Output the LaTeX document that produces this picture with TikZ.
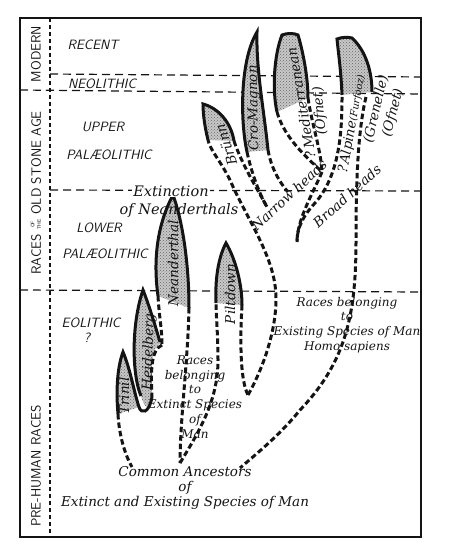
\documentclass[tikz,border=0pt]{standalone}
\usepackage{fontspec}
\usepackage{tikz}
\usetikzlibrary{patterns, positioning}
\newfontfamily\oldhand{DejaVu Serif}
\definecolor{cInk}{RGB}{20,20,20}
\definecolor{cStipple}{RGB}{200,200,200}
\tikzset{
	frame/.style   ={draw=cInk, line width=1.6pt},
	era/.style     ={draw=cInk, line width=1.2pt, dash pattern=on 8pt off 5pt},
	colsep/.style  ={draw=cInk, line width=1.2pt, dash pattern=on 4pt off 3pt},
	spindle/.style ={fill=cStipple, postaction={pattern=crosshatch dots, pattern color=black!60}},
	rim/.style     ={draw=cInk, line width=3pt},
	lineage/.style ={draw=cInk, line width=3pt, dash pattern=on 5.5pt off 3pt},
	% text styles
	period/.style  ={font=\fontsize{13.5}{15}\selectfont\sffamily\itshape, text=cInk, inner sep=1pt},
	agelbl/.style  ={font=\fontsize{13.5}{15}\selectfont\sffamily, text=cInk, rotate=90, inner sep=1pt},
	racelbl/.style ={font=\fontsize{13.5}{14}\selectfont\oldhand\itshape, text=cInk, inner sep=0pt},
	note/.style    ={font=\fontsize{12}{14.8}\selectfont\oldhand\itshape, text=cInk, align=center, inner sep=0pt},
}
\begin{document}
\begin{tikzpicture}[x=1pt,y=-1pt]
	\useasboundingbox (0,0) rectangle (452,545);
	% frame and time divisions
	\draw[frame] (20,18) rectangle (421,537);
	\draw[colsep] (50,18) -- (50,537);
	\draw[era] (50,74) -- (421,77);
	\draw[era] (20,90) -- (421,94);
	\draw[era] (50,190) -- (421,191);
	\draw[era] (20,290) -- (421,292);

	\node[agelbl] (modern) at (36,54) {MODERN};
	\node[agelbl] (oldstone) at (36,193) {RACES {\fontsize{5}{5.5}\selectfont\shortstack{OF\\THE}} OLD STONE AGE};
	\node[agelbl] (prehuman) at (36,466) {PRE-HUMAN RACES};

	\node[period] (recent) at (93,45) {RECENT};
	\node[period] (neo) at (102,84) {NEOLITHIC};
	\node[period] (upper) at (103,127) {UPPER};
	\node[period] (upperpal) at (109,155) {PAL\AE OLITHIC};
	\node[period] (lower) at (99,228) {LOWER};
	\node[period] (lowerpal) at (105,254) {PAL\AE OLITHIC};
	\node[period] (eo) at (91,323) {EOLITHIC};
	\node[period] (eoq) at (87,338) {?};

	\coordinate (trinil) at (123,352);
	\coordinate (heidel) at (143,290);
	\coordinate (neand) at (173,195);
	\coordinate (pilt) at (226,243);
	\coordinate (brunn) at (203,104);
	\coordinate (cro) at (257,32);
	\coordinate (vExtinct) at (180,463);
	\coordinate (vPilt) at (248,395);
	\coordinate (vNarrow) at (267,207);
	\coordinate (vMed) at (322,172);
	\coordinate (vBroad) at (297,242);
	\coordinate (rootL) at (132,467);
	\coordinate (rootR) at (240,468);

	% stippled spindles
	\fill[spindle] (118,414) .. controls (116,392) and (117,368) .. (trinil)
		.. controls (130,368) and (134,392) .. (139,407) -- cycle;
	\fill[spindle] (141,396) .. controls (132,375) and (131,325) .. (heidel)
		.. controls (149,305) and (155,325) .. (160,343)
		.. controls (150,350) and (151,375) .. (152,397)
		.. controls (149,410) and (145,410) .. cycle;
	\fill[spindle] (158,296) .. controls (153,260) and (157,225) .. (neand)
		.. controls (184,225) and (189,270) .. (189,308) -- cycle;
	\fill[spindle] (216,303) .. controls (215,280) and (218,258) .. (pilt)
		.. controls (236,260) and (242,285) .. (242,305) -- cycle;
	\fill[spindle] (208,140) .. controls (205,128) and (203,115) .. (brunn)
		.. controls (218,108) and (231,122) .. (234,141) -- cycle;
	\fill[spindle] (247,152) .. controls (240,120) and (240,60) .. (cro)
		.. controls (256,70) and (264,110) .. (268,150) -- cycle;
	\fill[spindle] (277,112) .. controls (272,90) and (274,55) .. (282,35)
		.. controls (287,33) and (294,33) .. (298,35)
		.. controls (304,55) and (308,80) .. (308,98) -- cycle;
	\fill[spindle] (342,95) .. controls (341,70) and (338,50) .. (337,39)
		.. controls (342,37) and (348,37) .. (352,38)
		.. controls (365,50) and (372,70) .. (372,92) -- cycle;

	% solid rims
	\draw[rim] (118,414) .. controls (116,392) and (117,368) .. (trinil)
		.. controls (130,368) and (134,392) .. (139,407)
		.. controls (141,414) and (149,414) .. (152,397);
	\draw[rim] (141,396) .. controls (132,375) and (131,325) .. (heidel)
		.. controls (149,305) and (155,325) .. (160,342);
	\draw[rim] (158,296) .. controls (153,260) and (157,225) .. (neand)
		.. controls (184,225) and (189,270) .. (189,308);
	\draw[rim] (216,303) .. controls (215,280) and (218,258) .. (pilt)
		.. controls (236,260) and (242,285) .. (242,305);
	\draw[rim] (208,140) .. controls (205,128) and (203,115) .. (brunn)
		.. controls (218,108) and (231,122) .. (234,141);
	\draw[rim] (247,152) .. controls (240,120) and (240,60) .. (cro)
		.. controls (256,70) and (264,110) .. (268,150);
	\draw[rim] (277,112) .. controls (272,90) and (274,55) .. (282,35)
		.. controls (287,33) and (294,33) .. (298,35)
		.. controls (304,55) and (308,80) .. (308,98);
	\draw[rim] (342,95) .. controls (341,70) and (338,50) .. (337,39)
		.. controls (342,37) and (348,37) .. (352,38)
		.. controls (365,50) and (372,70) .. (372,92);

	% dashed lines of descent
	\draw[lineage] (118,414) .. controls (119,435) and (125,455) .. (rootL);
	\draw[lineage] (162,345) .. controls (150,350) and (151,375) .. (152,397);
	\draw[lineage] (158,296) .. controls (159,315) and (162,330) .. (162,344);
	\draw[lineage] (189,308) .. controls (188,360) and (180,420) .. (vExtinct);
	\draw[lineage] (vExtinct) .. controls (200,430) and (218,400) .. (218,360)
		.. controls (218,335) and (216,315) .. (216,303);
	\draw[lineage] (242,305) .. controls (240,340) and (240,380) .. (vPilt);
	\draw[lineage] (vPilt) .. controls (265,365) and (280,320) .. (275,285)
		.. controls (270,250) and (245,215) .. (230,180)
		.. controls (220,160) and (210,150) .. (208,140);
	\draw[lineage] (234,141) .. controls (242,165) and (258,190) .. (vNarrow);
	\draw[lineage] (247,152) .. controls (252,175) and (260,195) .. (vNarrow);
	\draw[lineage] (268,150) .. controls (271,168) and (280,183) .. (288,192);
	\draw[lineage] (277,112) .. controls (285,140) and (310,160) .. (vMed);
	\draw[lineage] (308,98) .. controls (312,125) and (321,150) .. (vMed);
	\draw[lineage] (vMed) .. controls (312,195) and (297,220) .. (vBroad);
	\draw[lineage] (342,97) .. controls (342,130) and (340,175) .. (315,203)
		.. controls (303,216) and (297,228) .. (vBroad);
	\draw[lineage] (366,97) .. controls (358,130) and (356,180) .. (356,240)
		.. controls (356,310) and (348,360) .. (300,410)
		.. controls (280,435) and (255,455) .. (rootR);

	% race names
	\node[racelbl, rotate=90] (lblTrinil) at (124,396) {Trinil};
	\node[racelbl, rotate=88] (lblHeidel) at (149,352) {Heidelberg};
	\node[racelbl, rotate=90] (lblNeand) at (173,263) {Neanderthal};
	\node[racelbl, rotate=90] (lblPilt) at (230,294) {Piltdown};
	\node[racelbl, rotate=108] (lblBrunn) at (226,145) {Brünn};
	\node[racelbl, rotate=91] (lblCro) at (254,108) {Cro-Magnon};
	\node[racelbl, rotate=100] (lblMed) at (301,103) {?\,Mediterranean};
	\node[racelbl, rotate=95] (lblMedOf) at (320,111) {(Ofnet)};
	\node[racelbl, rotate=80] (lblAlp) at (352,124) {?\,Alpine{\fontsize{10}{10}\selectfont(Furfooz)}};
	\node[racelbl, rotate=77] (lblGren) at (376,109) {(Grenelle)};
	\node[racelbl, rotate=75] (lblAlpOf) at (393,113) {(Ofnet)};
	\node[racelbl, rotate=43] (lblNarrow) at (289,195) {Narrow heads};
	\node[racelbl, rotate=42] (lblBroad) at (347,196) {Broad heads};

	\node[racelbl, font=\fontsize{14.5}{15}\selectfont\oldhand\itshape, fill=white, inner sep=1pt] (extinct) at (171,191) {Extinction};
	\node[racelbl, font=\fontsize{14.5}{15}\selectfont\oldhand\itshape] (extinctOf) at (179,210) {of Neanderthals};
	\node[note] (extinctRaces) at (195,397) {Races\\belonging\\to\\Extinct Species\\of\\Man};
	\node[note] (livingRaces) at (347,325) {Races belonging\\to\\Existing Species of Man\\Homo sapiens};
	\node[note, font=\fontsize{13.5}{15}\selectfont\oldhand\itshape] (ancestors) at (185,488) {Common Ancestors\\of\\Extinct and Existing Species of Man};
\end{tikzpicture}
\end{document}
